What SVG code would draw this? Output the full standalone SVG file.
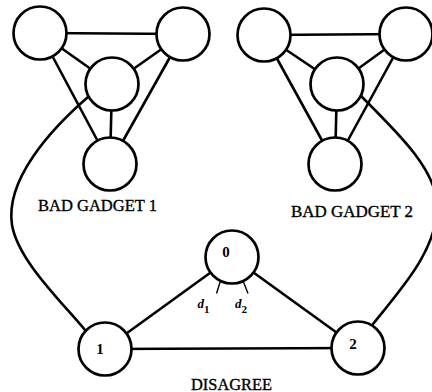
<svg xmlns="http://www.w3.org/2000/svg" width="432" height="392" viewBox="0 0 432 392">
<style>
.e{stroke:#000;stroke-width:2.6;fill:none;stroke-linecap:round}
.c{stroke:#000;stroke-width:2.7;fill:#fff}
.t{stroke:#000;stroke-width:1.4;fill:none}
.lab{font-family:"Liberation Serif","Times New Roman",serif;font-size:16px;fill:#000;stroke:#000;stroke-width:0.35}
.n{font-family:"Liberation Serif","Times New Roman",serif;font-size:15px;font-weight:bold;fill:#000;text-anchor:middle}
.d{font-family:"Liberation Serif","Times New Roman",serif;font-size:13px;font-style:italic;font-weight:bold;fill:#000}
.s{font-style:normal;font-size:11px}
</style>
<rect width="432" height="392" fill="#fff"/>
<g id="connectors">
<line class="e" x1="40" y1="33" x2="183" y2="34"/>
<line class="e" x1="40" y1="33" x2="112" y2="84"/>
<line class="e" x1="183" y1="34" x2="112" y2="84"/>
<line class="e" x1="40" y1="33" x2="110" y2="164"/>
<line class="e" x1="183" y1="34" x2="110" y2="164"/>
<line class="e" x1="112" y1="84" x2="110" y2="164"/>
<line class="e" x1="264" y1="35" x2="406" y2="34"/>
<line class="e" x1="264" y1="35" x2="337" y2="84"/>
<line class="e" x1="406" y1="34" x2="337" y2="84"/>
<line class="e" x1="264" y1="35" x2="335" y2="164"/>
<line class="e" x1="406" y1="34" x2="335" y2="164"/>
<line class="e" x1="337" y1="84" x2="335" y2="164"/>
<path class="e" d="M88,97 C50,130 5,180 12,225 C18,260 60,300 85,330"/>
<path class="e" d="M361,96 C400,135 436,170 437,205 C438,250 400,290 373,324"/>
<line class="e" x1="232" y1="257" x2="105" y2="349"/>
<line class="e" x1="232" y1="257" x2="358" y2="348"/>
<line class="e" x1="105" y1="349" x2="358" y2="348"/>
<line class="t" x1="223" y1="273" x2="216.5" y2="293.5"/>
<line class="t" x1="240" y1="273" x2="248" y2="293.5"/>
</g>
<g id="gadget1">
<circle class="c" cx="40" cy="33" r="26.5"/>
<circle class="c" cx="183" cy="34" r="26.5"/>
<circle class="c" cx="112" cy="84" r="26.5"/>
<circle class="c" cx="110" cy="164" r="26.5"/>
<text class="lab" x="38" y="211" textLength="119" lengthAdjust="spacingAndGlyphs">BAD GADGET 1</text>
</g>
<g id="gadget2">
<circle class="c" cx="264" cy="35" r="26.5"/>
<circle class="c" cx="406" cy="34" r="26.5"/>
<circle class="c" cx="337" cy="84" r="26.5"/>
<circle class="c" cx="335" cy="164" r="26.5"/>
<text class="lab" x="291" y="216.5" textLength="122" lengthAdjust="spacingAndGlyphs">BAD GADGET 2</text>
</g>
<g id="node0">
<circle class="c" cx="232" cy="257" r="26.5"/>
<text class="n" x="226" y="256.5">0</text>
<text class="d" x="197.5" y="307.5">d<tspan class="s" dy="5">1</tspan></text>
<text class="d" x="235" y="307.5">d<tspan class="s" dy="5">2</tspan></text>
</g>
<g id="node1">
<circle class="c" cx="105" cy="349" r="26.5"/>
<text class="n" x="100" y="353.5">1</text>
</g>
<g id="node2">
<circle class="c" cx="358" cy="348" r="26.5"/>
<text class="n" x="353" y="348.5">2</text>
</g>
<g id="title">
<text class="lab" x="191" y="390" textLength="81" lengthAdjust="spacingAndGlyphs">DISAGREE</text>
</g>
</svg>
